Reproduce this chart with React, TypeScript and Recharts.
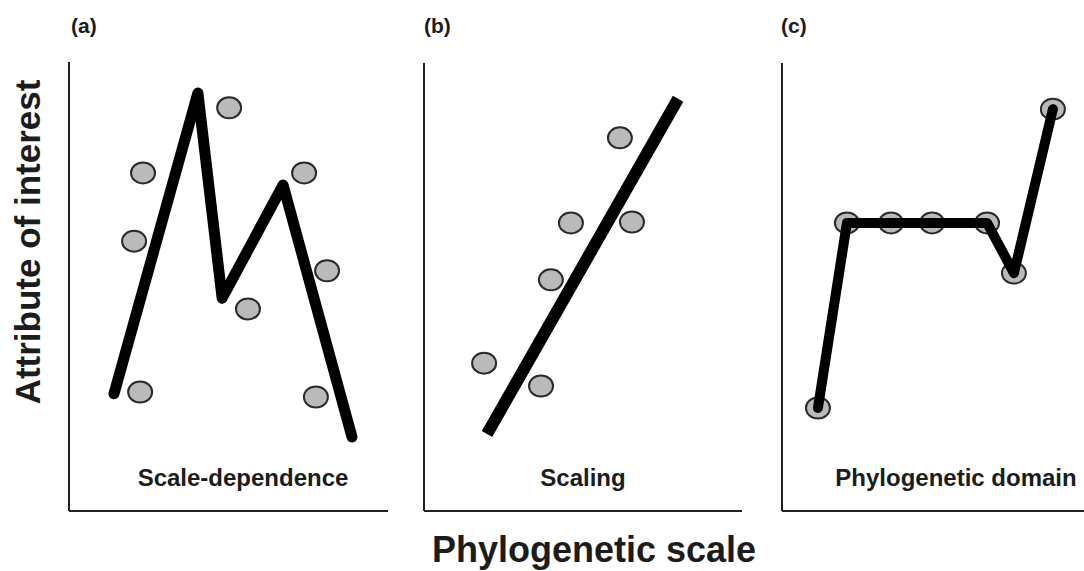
import React from 'react';
import { ScatterChart, Scatter, XAxis, YAxis } from 'recharts';

const PAGE_W = 1084;
const PAGE_H = 571;

// ---------- data (arbitrary units 0–100 on both axes) ----------
const panelLabels = ['(a)', '(b)', '(c)'];
const panelCaptions = ['Scale-dependence', 'Scaling', 'Phylogenetic domain'];
const yAxisTitle = 'Attribute of interest';
const xAxisTitle = 'Phylogenetic scale';

// (a) Scale-dependence
const aLine = [
  { x: 14.1, y: 26.1 },
  { x: 40.4, y: 93.1 },
  { x: 48.0, y: 47.4 },
  { x: 67.1, y: 72.6 },
  { x: 88.7, y: 16.5 },
];
const aPoints = [
  { x: 23.2, y: 75.3 },
  { x: 20.4, y: 60.1 },
  { x: 22.3, y: 26.5 },
  { x: 50.2, y: 89.8 },
  { x: 56.1, y: 45.0 },
  { x: 73.7, y: 75.3 },
  { x: 80.9, y: 53.5 },
  { x: 77.4, y: 25.4 },
];

// (b) Scaling
const bLine = [
  { x: 19.8, y: 17.2 },
  { x: 79.9, y: 92.0 },
];
const bPoints = [
  { x: 18.9, y: 33.0 },
  { x: 36.8, y: 27.9 },
  { x: 39.9, y: 51.6 },
  { x: 46.2, y: 64.3 },
  { x: 61.6, y: 83.3 },
  { x: 65.4, y: 64.5 },
];

// (c) Phylogenetic domain
const cPoints = [
  { x: 11.9, y: 23.0 },
  { x: 21.5, y: 64.3 },
  { x: 36.1, y: 64.3 },
  { x: 49.7, y: 64.3 },
  { x: 67.9, y: 64.3 },
  { x: 76.8, y: 53.1 },
  { x: 89.7, y: 89.7 },
];

// ---------- layout ----------
const frames = [
  { left: 69, top: 62, right: 388, bottom: 511 },
  { left: 424, top: 63, right: 742, bottom: 511 },
  { left: 782, top: 63, right: 1084, bottom: 511 },
];

const FONT = '"Liberation Sans", Arial, Helvetica, sans-serif';
const TEXT = '#1c1c1c';
const AXIS_BOX = 2;

const Dot = (props: any) => {
  const { cx, cy } = props;
  if (cx == null || cy == null) return <g />;
  return <ellipse cx={cx} cy={cy} rx={12} ry={10.5} fill="#bababa" stroke="#2a2a2a" strokeWidth={2} />;
};
const NoDot = () => <g />;

type PanelProps = {
  frame: { left: number; top: number; right: number; bottom: number };
  points: { x: number; y: number }[];
  line: { x: number; y: number }[];
  lineWidth: number;
  cap: 'round' | 'butt';
  lineOnTop: boolean;
};

function Panel({ frame, points, line, lineWidth, cap, lineOnTop }: PanelProps) {
  const margin = {
    left: frame.left - AXIS_BOX,
    top: frame.top,
    right: PAGE_W - frame.right,
    bottom: PAGE_H - frame.bottom - AXIS_BOX,
  };
  const dots = (
    <Scatter
      key="dots"
      data={points}
      shape={Dot}
      isAnimationActive={false}
      legendType="none"
    />
  );
  const trend = (
    <Scatter
      key="line"
      data={line}
      shape={NoDot}
      fill="#000"
      line={{ stroke: '#000', strokeWidth: lineWidth, strokeLinecap: cap, strokeLinejoin: 'round', fill: 'none' }}
      isAnimationActive={false}
      legendType="none"
    />
  );
  return (
    <div style={{ position: 'absolute', left: 0, top: 0 }}>
      <ScatterChart width={PAGE_W} height={PAGE_H} margin={margin}>
        <XAxis
          type="number"
          dataKey="x"
          domain={[0, 100]}
          ticks={[]}
          tick={false}
          tickLine={false}
          height={AXIS_BOX}
          axisLine={{ stroke: '#222', strokeWidth: 2 }}
        />
        <YAxis
          type="number"
          dataKey="y"
          domain={[0, 100]}
          ticks={[]}
          tick={false}
          tickLine={false}
          width={AXIS_BOX}
          axisLine={{ stroke: '#222', strokeWidth: 2 }}
        />
        {lineOnTop ? [dots, trend] : [trend, dots]}
      </ScatterChart>
    </div>
  );
}

export default function App() {
  const labelX = [71, 424, 781];
  const captionX = [243, 583, 956];
  return (
    <div style={{ position: 'absolute', left: 0, top: 0, width: PAGE_W, height: PAGE_H, background: '#fff', overflow: 'hidden' }}>
      <Panel frame={frames[0]} points={aPoints} line={aLine} lineWidth={11} cap="round" lineOnTop={false} />
      <Panel frame={frames[1]} points={bPoints} line={bLine} lineWidth={12} cap="butt" lineOnTop={false} />
      <Panel frame={frames[2]} points={cPoints} line={cPoints} lineWidth={10} cap="round" lineOnTop={true} />
      <svg width={PAGE_W} height={PAGE_H} style={{ position: 'absolute', left: 0, top: 0, pointerEvents: 'none' }}>
        {panelLabels.map((t, i) => (
          <text key={t} x={labelX[i]} y={33} fontFamily={FONT} fontWeight="bold" fontSize={21} fill={TEXT}>
            {t}
          </text>
        ))}
        {panelCaptions.map((t, i) => (
          <text key={t} x={captionX[i]} y={486} textAnchor="middle" fontFamily={FONT} fontWeight="bold" fontSize={24} fill={TEXT}>
            {t}
          </text>
        ))}
        <text
          x={40}
          y={242}
          transform="rotate(-90, 40, 242)"
          textAnchor="middle"
          fontFamily={FONT}
          fontWeight="bold"
          fontSize={35}
          fill={TEXT}
        >
          {yAxisTitle}
        </text>
        <text x={594} y={562} textAnchor="middle" fontFamily={FONT} fontWeight="bold" fontSize={36} fill={TEXT}>
          {xAxisTitle}
        </text>
      </svg>
    </div>
  );
}
